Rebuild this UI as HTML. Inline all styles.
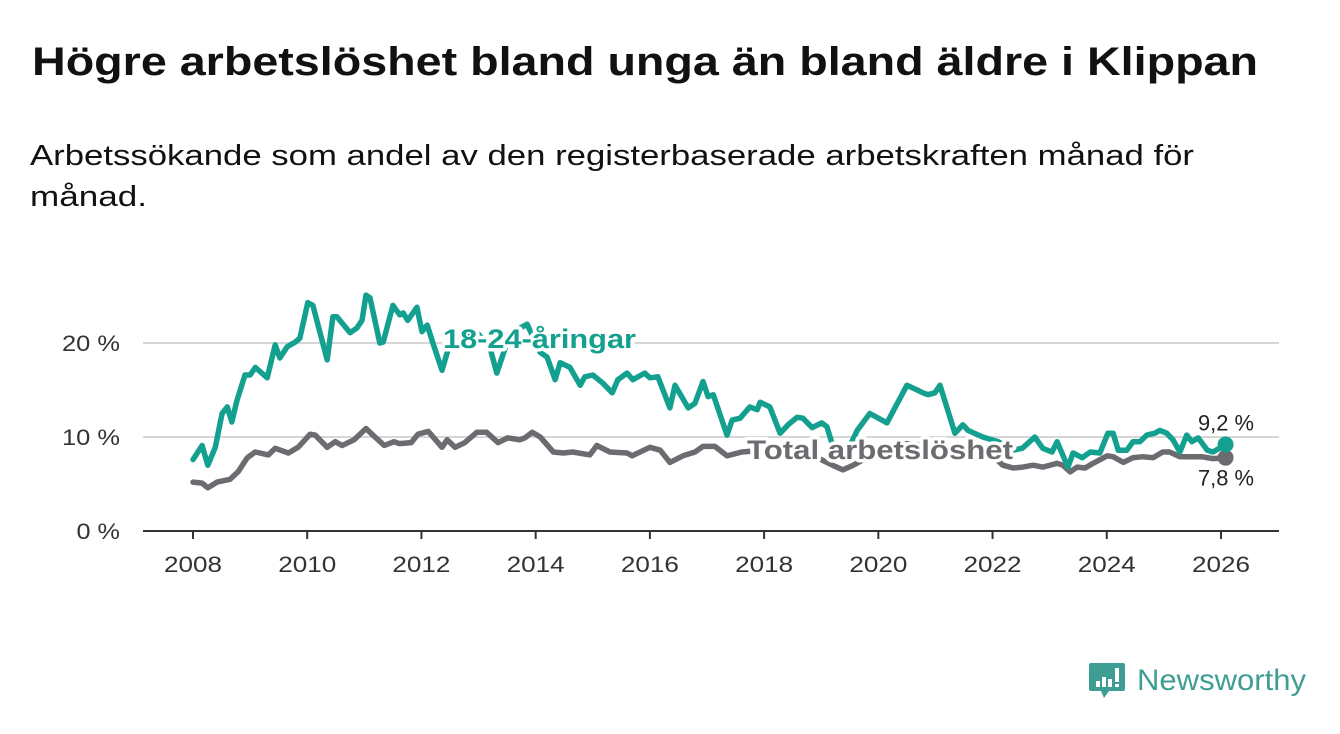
<!DOCTYPE html>
<html><head><meta charset="utf-8">
<style>
html,body{margin:0;padding:0;background:#fff;}
body{width:1340px;height:734px;overflow:hidden;font-family:"Liberation Sans",sans-serif;}
</style></head>
<body>
<svg id="chart" width="1340" height="734" xmlns="http://www.w3.org/2000/svg" style="position:absolute;left:0;top:0">
  <text x="32" y="75" font-family="Liberation Sans, sans-serif" font-weight="bold" font-size="40" fill="#111" textLength="1226" lengthAdjust="spacingAndGlyphs">Högre arbetslöshet bland unga än bland äldre i Klippan</text>
  <text x="30" y="165" font-family="Liberation Sans, sans-serif" font-size="29" fill="#111" textLength="1164" lengthAdjust="spacingAndGlyphs">Arbetssökande som andel av den registerbaserade arbetskraften månad för</text>
  <text x="30" y="206" font-family="Liberation Sans, sans-serif" font-size="29" fill="#111" textLength="117" lengthAdjust="spacingAndGlyphs">månad.</text>
  <g id="grid"></g>
  <g id="series"></g>
  <g id="labels"></g>
  <g>
    <path d="M1091 663 h32 a2 2 0 0 1 2 2 v24 a2 2 0 0 1 -2 2 h-14 l-5 7 l-3 -7 h-10 a2 2 0 0 1 -2 -2 v-24 a2 2 0 0 1 2 -2z" fill="#3f9e93"/>
    <rect x="1096" y="681" width="4" height="6" fill="#fff"/><rect x="1102" y="677" width="4" height="10" fill="#fff"/><rect x="1108" y="679" width="4" height="8" fill="#fff"/><rect x="1115" y="668" width="4" height="14" fill="#fff"/><rect x="1115" y="684" width="4" height="3" fill="#fff"/>
    <text x="1137" y="690" font-family="Liberation Sans, sans-serif" font-size="30" fill="#3f9e93" textLength="169" lengthAdjust="spacingAndGlyphs">Newsworthy</text>
  </g>
</svg>
<script>
const yTicks=[0,10,20];
const yTickLabels=["0 %","10 %","20 %"];
const xTicks=[2008,2010,2012,2014,2016,2018,2020,2022,2024,2026];
const youthYears=[2008.00,2008.16,2008.26,2008.39,2008.51,2008.60,2008.68,2008.77,2008.91,2009.00,2009.09,2009.30,2009.44,2009.52,2009.65,2009.79,2009.87,2010.01,2010.10,2010.35,2010.45,2010.52,2010.75,2010.87,2010.96,2011.03,2011.10,2011.27,2011.33,2011.50,2011.62,2011.68,2011.76,2011.92,2012.01,2012.10,2012.20,2012.36,2012.50,2012.76,2012.99,2013.20,2013.32,2013.55,2013.85,2014.08,2014.20,2014.34,2014.43,2014.60,2014.78,2014.86,2015.00,2015.18,2015.34,2015.44,2015.60,2015.70,2015.91,2016.00,2016.14,2016.35,2016.44,2016.67,2016.79,2016.93,2017.02,2017.11,2017.35,2017.44,2017.58,2017.75,2017.88,2017.93,2018.10,2018.28,2018.42,2018.58,2018.68,2018.84,2019.01,2019.10,2019.21,2019.42,2019.63,2019.85,2020.15,2020.50,2020.68,2020.78,2020.87,2020.99,2021.08,2021.34,2021.48,2021.57,2021.83,2022.10,2022.36,2022.52,2022.74,2022.88,2023.04,2023.13,2023.32,2023.41,2023.57,2023.71,2023.88,2024.02,2024.11,2024.20,2024.35,2024.46,2024.58,2024.70,2024.84,2024.93,2025.05,2025.16,2025.28,2025.40,2025.49,2025.60,2025.76,2025.86,2026.08];
const youthValues=[7.6,9.1,7.0,8.9,12.5,13.2,11.6,13.9,16.6,16.6,17.4,16.3,19.8,18.4,19.6,20.1,20.5,24.3,24.0,18.2,22.8,22.8,21.1,21.6,22.4,25.1,24.8,20.0,20.1,24.0,23.0,23.2,22.4,23.8,21.2,21.9,20.0,17.1,20.0,21.0,21.0,19.5,16.8,21.0,22.0,19.0,18.5,16.1,17.9,17.4,15.5,16.4,16.6,15.7,14.7,16.1,16.8,16.1,16.8,16.3,16.4,13.1,15.5,13.1,13.6,15.9,14.3,14.5,10.2,11.8,12.0,13.2,12.9,13.7,13.2,10.4,11.3,12.1,12.0,11.0,11.5,11.1,8.9,8.0,10.7,12.5,11.5,15.5,15.0,14.7,14.5,14.7,15.5,10.4,11.3,10.7,10.0,9.5,8.6,8.8,10.0,8.8,8.4,9.5,6.8,8.3,7.8,8.4,8.3,10.4,10.4,8.6,8.6,9.5,9.5,10.2,10.4,10.7,10.4,9.7,8.4,10.2,9.5,9.9,8.6,8.4,9.2];
const totalYears=[2008.00,2008.16,2008.26,2008.42,2008.65,2008.79,2008.95,2009.09,2009.32,2009.44,2009.67,2009.84,2010.05,2010.14,2010.35,2010.49,2010.61,2010.82,2011.03,2011.15,2011.35,2011.52,2011.61,2011.82,2011.94,2012.12,2012.36,2012.45,2012.59,2012.76,2012.97,2013.14,2013.34,2013.51,2013.72,2013.81,2013.94,2014.08,2014.31,2014.48,2014.65,2014.95,2015.07,2015.30,2015.60,2015.69,2016.00,2016.18,2016.35,2016.58,2016.79,2016.93,2017.14,2017.35,2017.61,2018.00,2018.50,2019.00,2019.20,2019.38,2019.56,2019.80,2020.00,2020.50,2021.00,2021.50,2022.00,2022.18,2022.36,2022.53,2022.71,2022.88,2023.13,2023.23,2023.36,2023.48,2023.62,2023.76,2024.01,2024.11,2024.29,2024.46,2024.63,2024.81,2024.98,2025.10,2025.28,2025.45,2025.66,2025.86,2026.08];
const totalValues=[5.2,5.1,4.6,5.2,5.5,6.3,7.8,8.4,8.1,8.8,8.3,8.9,10.3,10.2,8.9,9.5,9.1,9.7,10.9,10.2,9.1,9.5,9.3,9.4,10.3,10.6,8.9,9.7,8.9,9.4,10.5,10.5,9.4,9.9,9.7,9.9,10.5,10.0,8.4,8.3,8.4,8.1,9.1,8.4,8.3,8.0,8.9,8.6,7.3,8.0,8.4,9.0,9.0,8.0,8.4,8.6,8.7,7.6,7.0,6.5,7.0,7.8,8.5,9.3,9.0,8.8,8.0,7.0,6.7,6.8,7.0,6.8,7.2,7.0,6.3,6.8,6.7,7.2,8.0,7.9,7.3,7.8,7.9,7.8,8.4,8.4,7.9,7.9,7.9,7.7,7.8];

const NS='http://www.w3.org/2000/svg';
const X0=193,X1=1221,Y0=531,Y20=343;
function xs(y){return X0+(y-2008)*(X1-X0)/18;}
function ys(v){return Y0-v*(Y0-Y20)/20;}
function mk(tag,attrs,parent){const e=document.createElementNS(NS,tag);for(const k in attrs)e.setAttribute(k,attrs[k]);parent.appendChild(e);return e;}
const grid=document.getElementById('grid');
yTicks.forEach((t,i)=>{
  if(t>0){const l=mk('line',{x1:143,x2:1279,y1:ys(t),y2:ys(t),stroke:'#d6d6d6','stroke-width':2},grid);
  
  }
  const w=yTickLabels[i].length*14.5;
  const tx=mk('text',{x:120,y:ys(t)+8,'text-anchor':'end','font-size':22,fill:'#333','font-family':'Liberation Sans, sans-serif',textLength:w,lengthAdjust:'spacingAndGlyphs'},grid);
  tx.textContent=yTickLabels[i];
  
  
});
const ax=mk('line',{x1:143,x2:1279,y1:Y0,y2:Y0,stroke:'#333','stroke-width':2},grid);


xTicks.forEach(t=>{
  const tk=mk('line',{x1:xs(t),x2:xs(t),y1:Y0,y2:Y0+8,stroke:'#333','stroke-width':2},grid);
  
  
  const tx=mk('text',{x:xs(t),y:572,'text-anchor':'middle','font-size':22,fill:'#333','font-family':'Liberation Sans, sans-serif',textLength:58,lengthAdjust:'spacingAndGlyphs'},grid);
  tx.textContent=t;
  
  
});
const ser=document.getElementById('series');
function line(yrs,vals,color,name){
  const d=yrs.map((y,i)=>(i?'L':'M')+xs(y).toFixed(1)+' '+ys(vals[i]).toFixed(1)).join(' ');
  const p=mk('path',{d:d,fill:'none',stroke:color,'stroke-width':5.5,'stroke-linejoin':'round','stroke-linecap':'round'},ser);
  
  
  const n=yrs.length-1;
  const c=mk('circle',{cx:xs(yrs[n]),cy:ys(vals[n]),r:8,fill:color},ser);
  
  
}
line(totalYears,totalValues,'#6c6b70','total-line');
line(youthYears,youthValues,'#14a08f','youth-line');
const lab=document.getElementById('labels');
function label(x,y,txt,color,name,w){
  const t=mk('text',{x:x,y:y,'font-size':27,'font-weight':'bold',fill:color,stroke:'#fff','stroke-width':7,'paint-order':'stroke','stroke-linejoin':'round','font-family':'Liberation Sans, sans-serif',textLength:w,lengthAdjust:'spacingAndGlyphs'},lab);
  t.textContent=txt;
  
  
}
label(443,348,'18-24-åringar','#14a08f','youth-series-label',193);
label(747,459,'Total arbetslöshet','#6c6b70','total-series-label',266);
const nY=youthValues.length-1,nT=totalValues.length-1;
function valLab(x,y,txt,name){
  const t=mk('text',{x:x,y:y,'text-anchor':'middle','font-size':22,fill:'#222','font-family':'Liberation Sans, sans-serif',stroke:'#fff','stroke-width':5,'paint-order':'stroke',textLength:56,lengthAdjust:'spacingAndGlyphs'},lab);
  t.textContent=txt;
  
  
}
valLab(1226,ys(youthValues[nY])-14,youthValues[nY].toFixed(1).replace('.',',')+' %','youth-end-value');
valLab(1226,ys(totalValues[nT])+28,totalValues[nT].toFixed(1).replace('.',',')+' %','total-end-value');
</script>
</body></html>
